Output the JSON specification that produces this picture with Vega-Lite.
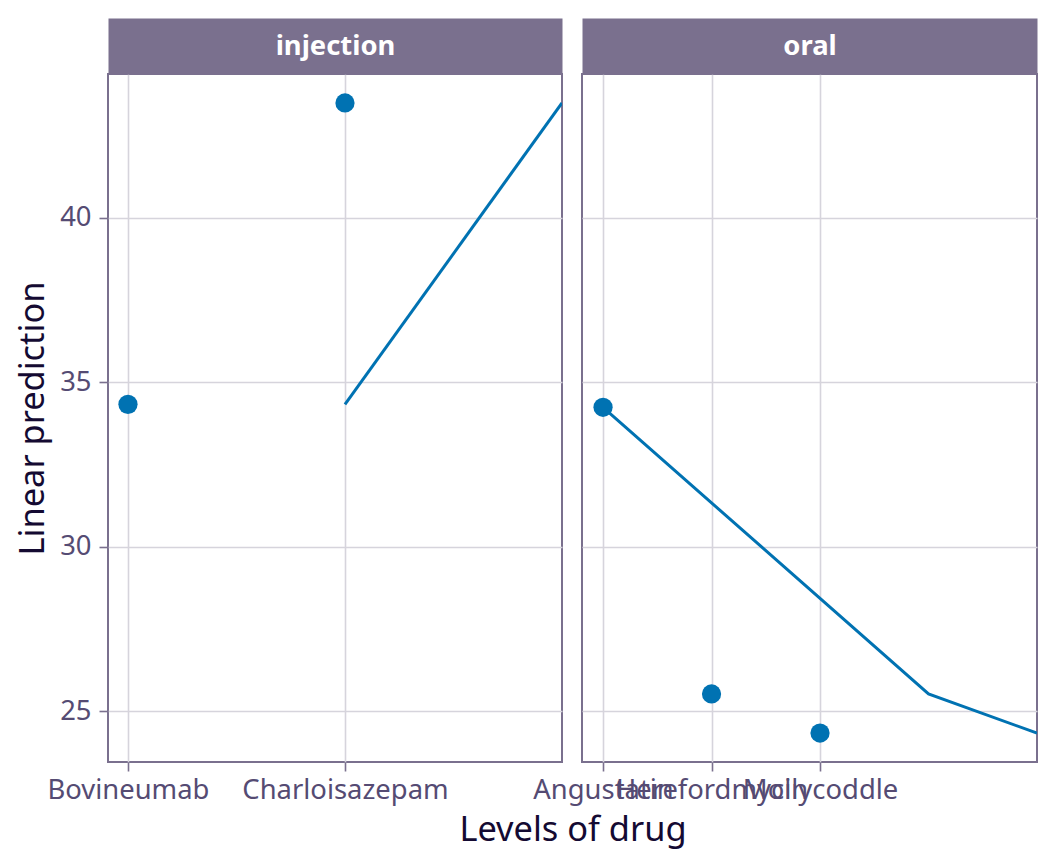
{
  "$schema": "https://vega.github.io/schema/vega-lite/v6.json",
  "background": "white",
  "padding": {"top": 31, "left": 14, "right": 19, "bottom": 12},
  "data": {
    "values": [
      {"route": "injection", "drug": "Bovineumab", "estimate": 34.33},
      {"route": "injection", "drug": "Charloisazepam", "estimate": 43.5},
      {"route": "oral", "drug": "Angustatin", "estimate": 34.24},
      {"route": "oral", "drug": "Herefordmycin", "estimate": 25.52},
      {"route": "oral", "drug": "Mollycoddle", "estimate": 24.33}
    ]
  },
  "transform": [
    {"window": [{"op": "row_number", "as": "drug_level"}], "sort": [{"field": "drug"}]}
  ],
  "bounds": "flush",
  "spacing": 20,
  "hconcat": [
    {
      "width": 454,
      "height": 688,
      "transform": [
        {"filter": "datum.route == 'injection'"},
        {"window": [{"op": "row_number", "as": "panel_level"}], "sort": [{"field": "drug"}]}
      ],
      "encoding": {
        "y": {
          "field": "estimate",
          "type": "quantitative",
          "scale": {"domain": [23.45, 44.38], "nice": false, "zero": false},
          "axis": {
            "values": [25, 30, 35, 40],
            "format": "d",
            "labelPadding": 8,
            "title": "Linear prediction",
            "titleX": -65,
            "titleBaseline": "alphabetic"
          }
        }
      },
      "resolve": {"axis": {"x": "independent"}},
      "layer": [
        {
          "mark": {"type": "line", "color": "#0072b2", "strokeWidth": 3, "clip": true},
          "encoding": {
            "x": {
              "field": "drug_level",
              "type": "quantitative",
              "scale": {"domain": [0.908, 3], "nice": false, "zero": false},
              "axis": {
                "values": [1, 2],
                "labelExpr": "['', 'Bovineumab', 'Charloisazepam'][datum.value]",
                "title": "Levels of drug",
                "titleX": 464.5,
                "titleY": 78,
                "titleAlign": "center",
                "titleBaseline": "alphabetic"
              }
            }
          }
        },
        {
          "mark": {"type": "circle", "size": 370, "color": "#0072b2", "opacity": 1},
          "encoding": {
            "x": {
              "field": "panel_level",
              "type": "quantitative",
              "scale": {"domain": [0.908, 3], "nice": false, "zero": false},
              "axis": {
                "orient": "top",
                "values": [],
                "grid": false,
                "labels": false,
                "ticks": false,
                "domain": true,
                "domainColor": "#7a708e",
                "domainWidth": 56,
                "offset": 28,
                "title": "injection",
                "titleY": 0,
                "titleX": 227,
                "titleAlign": "center",
                "titleBaseline": "middle",
                "titleColor": "white",
                "titleFontWeight": "bold",
                "titleFontSize": 27.4
              }
            }
          }
        }
      ]
    },
    {
      "width": 455,
      "height": 688,
      "transform": [
        {"filter": "datum.route == 'oral'"},
        {"window": [{"op": "row_number", "as": "panel_level"}], "sort": [{"field": "drug"}]}
      ],
      "encoding": {
        "y": {
          "field": "estimate",
          "type": "quantitative",
          "scale": {"domain": [23.45, 44.38], "nice": false, "zero": false},
          "axis": {"values": [25, 30, 35, 40], "labels": false, "ticks": false, "title": null}
        }
      },
      "resolve": {"axis": {"x": "independent"}},
      "layer": [
        {
          "mark": {"type": "line", "color": "#0072b2", "strokeWidth": 3, "clip": true},
          "encoding": {
            "x": {
              "field": "drug_level",
              "type": "quantitative",
              "scale": {"domain": [0.806, 5], "nice": false, "zero": false},
              "axis": {
                "values": [1, 2, 3],
                "labelExpr": "['', 'Angustatin', 'Herefordmycin', 'Mollycoddle'][datum.value]",
                "title": null
              }
            }
          }
        },
        {
          "mark": {"type": "circle", "size": 370, "color": "#0072b2", "opacity": 1},
          "encoding": {
            "x": {
              "field": "panel_level",
              "type": "quantitative",
              "scale": {"domain": [0.806, 5], "nice": false, "zero": false},
              "axis": {
                "orient": "top",
                "values": [],
                "grid": false,
                "labels": false,
                "ticks": false,
                "domain": true,
                "domainColor": "#7a708e",
                "domainWidth": 56,
                "offset": 28,
                "title": "oral",
                "titleY": 0,
                "titleX": 227.5,
                "titleAlign": "center",
                "titleBaseline": "middle",
                "titleColor": "white",
                "titleFontWeight": "bold",
                "titleFontSize": 27.4
              }
            }
          }
        }
      ]
    }
  ],
  "config": {
    "font": "Noto Sans",
    "view": {"stroke": "#7a708e", "strokeWidth": 2},
    "axis": {
      "domain": false,
      "labelFont": "Noto Sans",
      "labelFontSize": 27.4,
      "labelColor": "#554b73",
      "labelPadding": 5,
      "labelLimit": 1000,
      "labelOverlap": false,
      "labelFlush": false,
      "labelBound": false,
      "titleFont": "Noto Sans",
      "titleFontSize": 34.4,
      "titleFontWeight": "normal",
      "titleColor": "#140a32",
      "tickColor": "#7a708e",
      "tickSize": 9,
      "tickWidth": 1.6,
      "gridColor": "#d6d4dc",
      "gridWidth": 1.6
    }
  }
}
